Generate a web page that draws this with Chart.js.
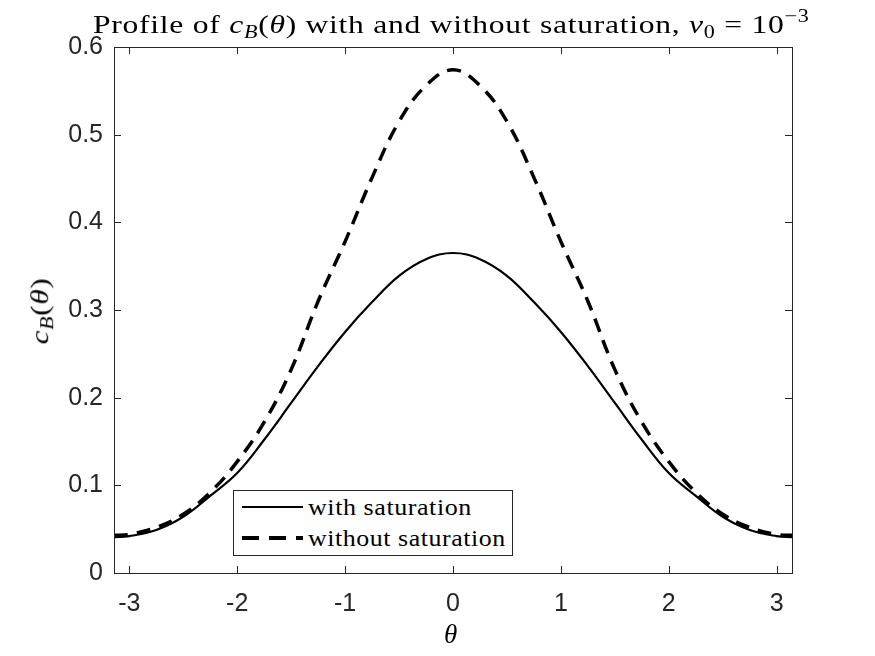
<!DOCTYPE html>
<html>
<head>
<meta charset="utf-8">
<script src="https://cdn.jsdelivr.net/npm/chart.js@4.4.1/dist/chart.umd.min.js"></script>
<style>
  body { margin: 0; background: #fff; }
  #wrap { position: relative; width: 875px; height: 656px; }
  #chart { position: absolute; left: 0; top: 0; }
  .tx { position: absolute; font-family: "Liberation Serif", "DejaVu Serif", serif; color: #000; white-space: nowrap; line-height: 1; letter-spacing: 0.6px; }
  .tx i { font-style: italic; }
  .tx sub { font-size: 70%; vertical-align: -0.3em; }
  .tx sup { font-size: 70%; vertical-align: 0.6em; }
  #title { left: 93px; top: 7px; font-size: 26px; transform-origin: 0 0; }
  #xlab { left: 444px; top: 621px; font-size: 27px; }
  #ylab { left: 42px; top: 311px; font-size: 26px; }
  #legend { position: absolute; left: 233px; top: 490px; width: 280px; height: 66px; border: 1px solid #262626; background: #fff; box-sizing: border-box; }
  .row { position: absolute; left: 0; height: 30px; width: 100%; }
  .sample { position: absolute; left: 8px; width: 61px; top: 14px; }
  .row span { position: absolute; left: 74px; top: 3px; font-family: "Liberation Serif", "DejaVu Serif", serif; font-size: 23px; color: #000; white-space: nowrap; letter-spacing: 0.5px; transform-origin: 0 0; }
</style>
</head>
<body>
<div id="wrap">
  <canvas id="chart" width="875" height="656"></canvas>
  <div class="tx" id="title">Profile of <i>c</i><sub><i>B</i></sub>(<i>θ</i>) with and without saturation, <i>v</i><sub>0</sub> = 10<sup>−3</sup></div>
  <div class="tx" id="xlab"><i>θ</i></div>
  <div class="tx" id="ylab"><i>c</i><sub><i>B</i></sub>(<i>θ</i>)</div>
  <div id="legend">
    <div class="row" style="top:1px"><div class="sample" style="border-top:2px solid #000"></div><span id="leg1">with saturation</span></div>
    <div class="row" style="top:32px"><div class="sample" style="height:4px;top:13px;background:repeating-linear-gradient(to right,#000 0 17px,transparent 17px 27px)"></div><span id="leg2">without saturation</span></div>
  </div>
</div>
<script>
const theta = [-3.1416, -3, -2.75, -2.5, -2.25, -2, -1.75, -1.5, -1.25, -1, -0.75, -0.5, -0.25, 0,
               0.25, 0.5, 0.75, 1, 1.25, 1.5, 1.75, 2, 2.25, 2.5, 2.75, 3, 3.1416]
const withSat = [0.041, 0.042, 0.049, 0.064, 0.088, 0.114, 0.152, 0.194, 0.236, 0.275, 0.309, 0.339, 0.358, 0.365,
                 0.358, 0.339, 0.309, 0.275, 0.236, 0.194, 0.152, 0.114, 0.088, 0.064, 0.049, 0.042, 0.041]
const withoutSat = [0.043, 0.044, 0.052, 0.067, 0.092, 0.127, 0.172, 0.232, 0.310, 0.378, 0.451, 0.515, 0.556, 0.574,
                    0.556, 0.515, 0.451, 0.378, 0.310, 0.232, 0.172, 0.127, 0.092, 0.067, 0.052, 0.044, 0.043]
const xTicks = [-3, -2, -1, 0, 1, 2, 3]
const yTicks = [0, 0.1, 0.2, 0.3, 0.4, 0.5, 0.6]

const axisColor = '#262626'

// stretch the serif text a bit so it is as wide as the LaTeX text in the original
function fitWidth(id, w, extra) {
  const el = document.getElementById(id)
  const s = w / el.offsetWidth
  el.style.transform = (extra || '') + ' scaleX(' + s + ')'
}

// MATLAB style box with inward ticks on all four sides
const boxPlugin = {
  id: 'box',
  afterDraw(chart) {
    const { ctx, chartArea: a, scales: { x, y } } = chart
    ctx.save()
    ctx.strokeStyle = axisColor
    ctx.lineWidth = 1
    ctx.beginPath()
    x.ticks.forEach(t => {
      const px = Math.round(x.getPixelForValue(t.value)) + 0.5
      ctx.moveTo(px, a.bottom); ctx.lineTo(px, a.bottom - 7)
      ctx.moveTo(px, a.top); ctx.lineTo(px, a.top + 7)
    })
    y.ticks.forEach(t => {
      const py = Math.round(y.getPixelForValue(t.value)) + 0.5
      ctx.moveTo(a.left, py); ctx.lineTo(a.left + 7, py)
      ctx.moveTo(a.right, py); ctx.lineTo(a.right - 7, py)
    })
    ctx.stroke()
    ctx.strokeRect(Math.round(a.left) + 0.5, Math.round(a.top) + 0.5, Math.round(a.right - a.left), Math.round(a.bottom - a.top))
    ctx.restore()
  }
}

new Chart('chart', {
  type: 'line',
  data: {
    labels: theta,
    datasets: [
      {
        label: 'with saturation',
        data: theta.map((t, i) => ({ x: t, y: withSat[i] })),
        borderColor: '#000',
        borderWidth: 2.2,
        pointRadius: 0,
        tension: 0.4,
        fill: false
      },
      {
        label: 'without saturation',
        data: theta.map((t, i) => ({ x: t, y: withoutSat[i] })),
        borderColor: '#000',
        borderWidth: 3.5,
        borderDash: [14, 9],
        pointRadius: 0,
        tension: 0.4,
        fill: false
      }
    ]
  },
  options: {
    responsive: false,
    animation: false,
    devicePixelRatio: 1,
    layout: { padding: { left: 0, right: 83, top: 47, bottom: 0 } },
    plugins: { legend: { display: false }, title: { display: false }, tooltip: { enabled: false } },
    scales: {
      x: {
        type: 'linear',
        min: -Math.PI,
        max: Math.PI,
        afterFit(scale) { scale.height = 83 },
        afterBuildTicks(scale) { scale.ticks = xTicks.map(v => ({ value: v })) },
        grid: { display: false, drawTicks: false },
        border: { display: false },
        ticks: {
          padding: 16,
          color: axisColor,
          font: { family: 'Liberation Sans', size: 25 },
          callback: v => String(v)
        }
      },
      y: {
        min: 0,
        max: 0.6,
        afterFit(scale) { scale.width = 114 },
        afterBuildTicks(scale) { scale.ticks = yTicks.map(v => ({ value: v })) },
        grid: { display: false, drawTicks: false },
        border: { display: false },
        ticks: {
          padding: 11,
          color: axisColor,
          font: { family: 'Liberation Sans', size: 25 },
          callback: v => String(Math.round(v * 10) / 10)
        }
      }
    }
  },
  plugins: [boxPlugin]
})

fitWidth('title', 717)
fitWidth('leg1', 164)
fitWidth('leg2', 198)
fitWidth('ylab', 67, 'translate(-50%, -50%) rotate(-90deg)')
</script>
</body>
</html>
